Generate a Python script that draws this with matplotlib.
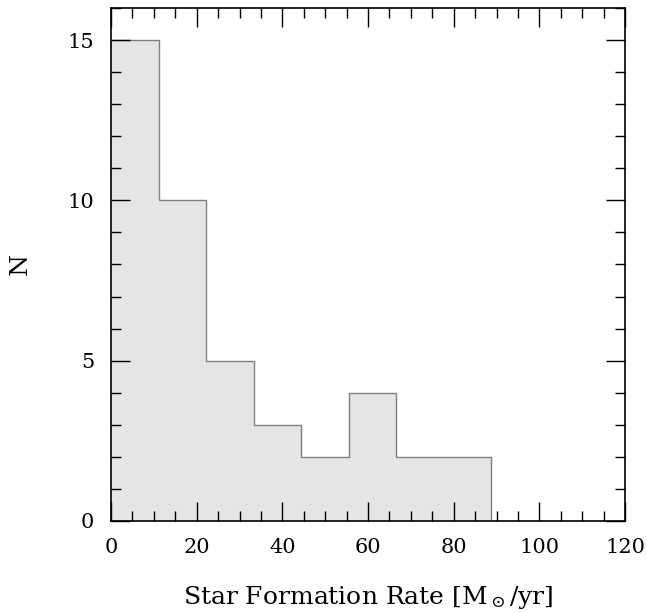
import numpy as np
import matplotlib.pyplot as plt
from matplotlib.ticker import MultipleLocator

plt.rcParams['font.family'] = 'DejaVu Serif'
plt.rcParams['mathtext.fontset'] = 'dejavuserif'

# histogram of star formation rates
bin_edges = [0, 11.1, 22.2, 33.3, 44.4, 55.5, 66.6, 77.7, 88.8]
counts = [15, 10, 5, 3, 2, 4, 2, 2]

fig = plt.figure(figsize=(6.47, 6.12), dpi=100)
ax = fig.add_axes([0.1716, 0.1487, 0.7945, 0.8383])

ax.stairs(counts, bin_edges, fill=True, color='#e5e5e5')
ax.stairs(counts, bin_edges, baseline=None, color='#7f7f7f', linewidth=1.0)
# closing edge down to zero at the last bin
ax.plot([bin_edges[-1], bin_edges[-1]], [0, counts[-1]], color='#7f7f7f', lw=1.0)

ax.set_xlim(0, 120)
ax.set_ylim(0, 16)
ax.xaxis.set_major_locator(MultipleLocator(20))
ax.xaxis.set_minor_locator(MultipleLocator(5))
ax.yaxis.set_major_locator(MultipleLocator(5))
ax.yaxis.set_minor_locator(MultipleLocator(1))
ax.tick_params(which='both', direction='in', top=True, right=True, labelsize=15, width=1.0)
ax.tick_params(which='major', length=14)
ax.tick_params(which='minor', length=7)
ax.tick_params(axis='x', pad=12)
ax.tick_params(axis='y', pad=12)
for s in ax.spines.values():
    s.set_linewidth(1.2)

ax.set_xlabel(r'Star Formation Rate [M$_\odot$/yr]', fontsize=18, labelpad=20)
ax.set_ylabel('N', fontsize=18)
ax.yaxis.set_label_coords(-0.155, 0.5)

fig.savefig('out.png', dpi=100)
